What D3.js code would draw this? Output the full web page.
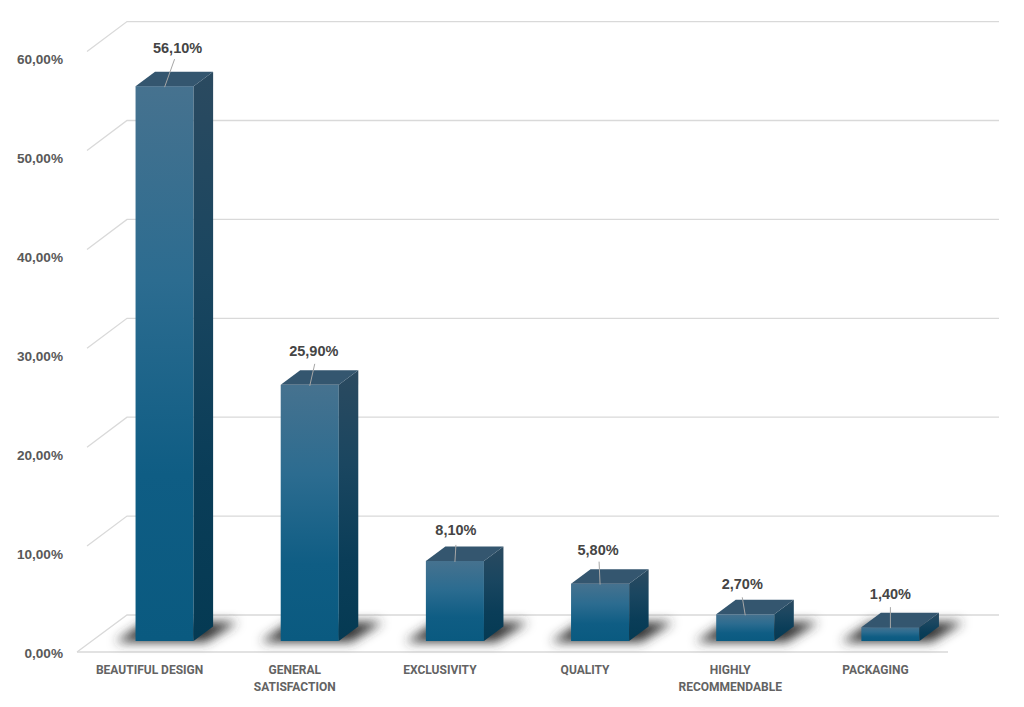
<!DOCTYPE html>
<html>
<head>
<meta charset="utf-8">
<script src="https://d3js.org/d3.v7.min.js"></script>
<style>
  html, body { margin: 0; padding: 0; background: #fff; }
  svg { display: block; }
  .tick text { font-family: "Liberation Sans", sans-serif; font-weight: 700; font-size: 13.6px; fill: #595959; }
  .cat { font-family: Roboto, sans-serif; font-weight: 700; font-size: 12px; fill: #636363; }
  .val { font-family: "Liberation Sans", sans-serif; font-weight: 700; font-size: 14.5px; fill: #454545; }
</style>
</head>
<body>
<div id="chart"></div>
<script>
// chart data
var categories = ["BEAUTIFUL DESIGN", "GENERAL SATISFACTION", "EXCLUSIVITY", "QUALITY", "HIGHLY RECOMMENDABLE", "PACKAGING"];
var values = [56.1, 25.9, 8.1, 5.8, 2.7, 1.4];
var valueLabels = ["56,10%", "25,90%", "8,10%", "5,80%", "2,70%", "1,40%"];
var tickValues = [0, 10, 20, 30, 40, 50, 60];

var width = 1024, height = 707;

// depth of the 3d box
var dx = 19.5, dy = -14.5;

var x = d3.scaleBand()
    .domain(categories)
    .range([92, 963])
    .paddingInner(0.6)
    .paddingOuter(0.3);

// y is measured on the plane of the bar fronts
var y = d3.scaleLinear()
    .domain([0, 60])
    .range([641, 47.6]);

var wallShift = -26, floorShift = 11;

var svg = d3.select("#chart").append("svg")
    .attr("width", width)
    .attr("height", height);

var defs = svg.append("defs");

function gradient(id, stops) {
  var g = defs.append("linearGradient").attr("id", id)
      .attr("x1", 0).attr("y1", 0).attr("x2", 0).attr("y2", 1);
  stops.forEach(function(s) {
    g.append("stop").attr("offset", s[0]).attr("stop-color", s[1]);
  });
}
gradient("front", [[0, "#46728f"], [0.35, "#2c6c90"], [0.7, "#0f5d84"], [1, "#0a5a80"]]);
gradient("side", [[0, "#2b4a60"], [0.35, "#1a4660"], [0.7, "#0a3d58"], [1, "#053a53"]]);

defs.append("filter").attr("id", "blur")
    .attr("x", "-30%").attr("y", "-100%").attr("width", "160%").attr("height", "300%")
  .append("feGaussianBlur").attr("stdDeviation", 5.5);

// wall gridlines and floor
var grid = svg.append("g").attr("fill", "none").attr("stroke", "#d9d9d9").attr("stroke-width", 1.3);
tickValues.forEach(function(t) {
  var wy = y(t) + wallShift;
  grid.append("path")
      .attr("d", t == 0
        ? "M77," + (y(0) + floorShift) + "L127," + wy + "H999"
        : "M87," + (wy + 30) + "L127," + wy + "H999");
});
grid.append("path").attr("d", "M77," + (y(0) + floorShift) + "H948");

// y axis labels
var axis = d3.axisLeft(y)
    .tickValues(tickValues)
    .tickSize(0)
    .tickPadding(0)
    .tickFormat(function(d) { return d3.format(".2f")(d).replace(".", ",") + "%"; });

svg.append("g")
    .attr("transform", "translate(63," + (floorShift + 1) + ")")
    .call(axis)
    .call(function(g) { g.select(".domain").remove(); });

// shadows first so the bars sit on top
svg.append("g").selectAll("path")
    .data(categories)
  .enter().append("path")
    .attr("fill", "#333")
    .attr("filter", "url(#blur)")
    .attr("d", function(d) {
      var l = x(d), r = l + x.bandwidth(), b = y(0) + 1;
      return "M" + (l - 20) + "," + b + "H" + (r + 12) + "L" + (r + 44) + "," + (b - 20) + "H" + (l + 10) + "Z";
    });

var bars = svg.append("g").selectAll("g")
    .data(categories)
  .enter().append("g");

// front
bars.append("rect")
    .attr("x", function(d) { return x(d); })
    .attr("y", function(d, i) { return y(values[i]); })
    .attr("width", x.bandwidth())
    .attr("height", function(d, i) { return y(0) - y(values[i]); })
    .attr("fill", "url(#front)");

// side
bars.append("path")
    .attr("fill", "url(#side)")
    .attr("d", function(d, i) {
      var r = x(d) + x.bandwidth();
      return "M" + r + "," + y(values[i]) + "l" + dx + "," + dy + "V" + (y(0) + dy) + "L" + r + "," + y(0) + "Z";
    });

// top
bars.append("path")
    .attr("fill", "#34566f")
    .attr("d", function(d, i) {
      var l = x(d), top = y(values[i]);
      return "M" + l + "," + top + "l" + dx + "," + dy + "h" + x.bandwidth() + "l" + (-dx) + "," + (-dy) + "Z";
    });

// value labels, nudged by hand like the original
var labelDx = [13, 4, 1, -2, -3, 0];
var labelDy = [-33, -29, -26, -29, -25, -28];
var leadFrom = [10, 5, 1, -1, -3, 0];
var leadGap = [-27, -21, -16, -22, -17, -20];

bars.append("line")
    .attr("stroke", "#a6a6a6")
    .attr("x1", function(d) { return x(d) + x.bandwidth() / 2; })
    .attr("y1", function(d, i) { return y(values[i]) + 1; })
    .attr("x2", function(d, i) { return x(d) + x.bandwidth() / 2 + leadFrom[i]; })
    .attr("y2", function(d, i) { return y(values[i]) + leadGap[i]; });

bars.append("text")
    .attr("class", "val")
    .attr("text-anchor", "middle")
    .attr("x", function(d, i) { return x(d) + x.bandwidth() / 2 + labelDx[i]; })
    .attr("y", function(d, i) { return y(values[i]) + labelDy[i]; })
    .text(function(d, i) { return valueLabels[i]; });

// category labels, two word ones wrap
var catLines = { "GENERAL SATISFACTION": ["GENERAL", "SATISFACTION"], "HIGHLY RECOMMENDABLE": ["HIGHLY", "RECOMMENDABLE"] };
svg.append("g").selectAll("text")
    .data(categories)
  .enter().append("text")
    .attr("class", "cat")
    .attr("text-anchor", "middle")
    .attr("y", 674)
    .each(function(d) {
      var t = d3.select(this), cx = x(d) + x.bandwidth() / 2 - 15;
      (catLines[d] || [d]).forEach(function(line, k) {
        t.append("tspan").attr("x", cx).attr("dy", k ? 16.5 : 0).text(line);
      });
    });
</script>
</body>
</html>
